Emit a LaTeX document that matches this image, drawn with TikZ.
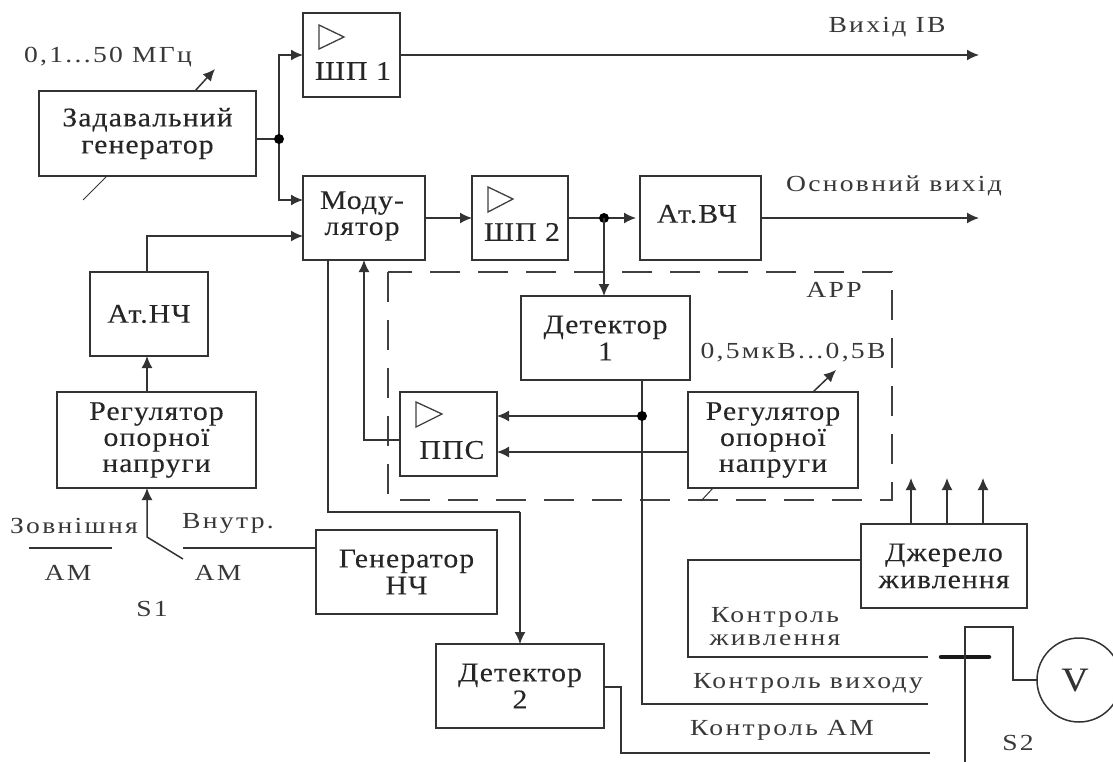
\documentclass[tikz,border=0pt]{standalone}
\usepackage{fontspec}
\setmainfont[LetterSpace=4,FakeStretch=1.1,FakeBold=0.15]{Liberation Serif}
\newfontfamily\smf[LetterSpace=10,FakeStretch=1.2]{Liberation Serif}
\usetikzlibrary{arrows.meta}
\tikzset{
  x=1pt,y=-1pt,
  wire/.style={draw=black!80,line width=1.5pt},
  arr/.style={wire,-{Latex[length=12pt,width=11pt]}},
  boxa/.style={wire,fill=white,inner sep=0pt,outer sep=0pt,align=center,
     font=\fontsize{27}{27}\selectfont,text=black!85},
  tri/.style={draw=black!75,line width=1.3pt},
  dot/.style={circle,fill=black,inner sep=0pt,minimum size=10pt},
  dashbox/.style={draw=black!75,line width=1.5pt,dash pattern=on 30pt off 18pt},
  lab/.style={inner sep=0pt,align=center,font=\fontsize{27}{26}\selectfont,text=black!85},
  slab/.style={inner sep=0pt,align=center,font=\smf\fontsize{23}{23}\selectfont,text=black!78},
}
\begin{document}
\begin{tikzpicture}
\useasboundingbox (0,0) rectangle (1113,762);
\clip (0,0) rectangle (1113,762);
% dashed frame
\draw[dashbox] (388,272) rectangle (892,500);
% boxes
\node[boxa,minimum width=217pt,minimum height=85pt] (zg) at (147.5,133.5) {Задавальний\\генератор};
\node[boxa,minimum width=97pt,minimum height=84pt] (shp1) at (351.5,55) {};
\node[lab] (shp1t) at (353,71) {ШП 1};
\node[boxa,minimum width=122pt,minimum height=84pt] (mod) at (364,218) {};
\node[lab] (modt) at (362,216) {Моду-\\лятор};
\node[boxa,minimum width=96pt,minimum height=84pt] (shp2) at (520,218) {};
\node[lab] (shp2t) at (522,232) {ШП 2};
\node[boxa,minimum width=121pt,minimum height=84pt] (atv) at (700.5,218) {};
\node[lab] (atvt) at (697,214) {Ат.ВЧ};
\node[boxa,minimum width=118pt,minimum height=84pt] (atn) at (149,314) {Ат.НЧ};
\node[boxa,minimum width=199pt,minimum height=96pt] (reg1) at (156.5,440) {};
\node[lab] (reg1t) at (156.5,440) {Регулятор\\опорної\\напруги};
\node[boxa,minimum width=169pt,minimum height=84pt] (det1) at (605.5,338) {Детектор\\1};
\node[boxa,minimum width=97pt,minimum height=84pt] (pps) at (448.5,434) {};
\node[lab] (ppst) at (452,450) {ППС};
\node[boxa,minimum width=170pt,minimum height=96pt] (reg2) at (773,440) {};
\node[lab] (reg2t) at (773,440) {Регулятор\\опорної\\напруги};
\node[boxa,minimum width=181pt,minimum height=84pt] (gen) at (406.5,572) {Генератор\\НЧ};
\node[boxa,minimum width=168pt,minimum height=84pt] (det2) at (520,686) {Детектор\\2};
\node[boxa,minimum width=166pt,minimum height=84pt] (pwr) at (944,566) {Джерело\\живлення};
% amplifier triangles
\draw[tri] (319,25) -- (344,37) -- (319,49) -- cycle;
\draw[tri] (488,187) -- (513,199) -- (488,212) -- cycle;
\draw[tri] (416,402) -- (442,414) -- (416,427) -- cycle;
% named points
\coordinate (j1) at (279,139);
\coordinate (j2) at (604,218);
\coordinate (j3) at (642,416);
\coordinate (c12) at (520,512);
\coordinate (ctrlv) at (928,704);
\coordinate (ctrla) at (930,753);
\coordinate (ctrlp) at (928,657);
\coordinate (s2top) at (1013,627);
\coordinate (s2bot) at (965,762);
\coordinate (ivout) at (979,55);
\coordinate (mainout) at (979,218);
\coordinate (sw) at (147,537);
\coordinate (swend) at (183,559);
\coordinate (genend) at (183,548);
\coordinate (zl) at (29,548);
\coordinate (zr) at (112,548);
\coordinate (atvin) at (636,218);
\node[wire,circle,inner sep=0pt,outer sep=0pt,minimum size=84pt] (vm) at (1079,680) {};
% connectors
\draw[wire] (zg.east |- j1) -- (j1);
\draw[arr] (j1) |- (shp1.west);
\draw[arr] (j1) |- (mod.west |- 0,200);
\node[dot] (jd1) at (j1) {};
\draw[arr] (shp1.east) -- (ivout);
\draw[arr] (atn.north -| 147,0) |- (mod.west |- 0,236);
\draw[arr] (reg1.north -| 147,0) -- (atn.south -| 147,0);
\draw[arr] (mod.east) -- (shp2.west);
\draw[arr] (shp2.east) -- (atvin);
\node[dot] (jd2) at (j2) {};
\draw[arr] (j2) -- (det1.north -| j2);
\draw[arr] (atv.east) -- (mainout);
\draw[arr] (pps.west |- 0,440) -| (mod.south -| 364,0);
\draw[arr] (reg2.west |- 0,452) -- (pps.east |- 0,452);
\draw[arr] (j3) -- (pps.east |- j3);
\draw[wire] (det1.south -| j3) |- (ctrlv);
\node[dot] (jd3) at (j3) {};
\draw[wire] (mod.south -| 328,0) |- (c12);
\draw[arr] (c12) -- (det2.north);
\draw[wire] (det2.east |- 0,687) -- (621,687) |- (ctrla);
\draw[wire] (pwr.west |- 0,560) -| (688,657) -- (ctrlp);
\draw[line width=4.5pt,line cap=round,black!90] (941,657) -- (989,657);
\draw[wire] (s2bot) |- (s2top) |- (vm.west);
\foreach \x in {911,947,983} \draw[arr] (pwr.north -| \x,0) -- (\x,478);
% switch S1
\draw[arr] (swend) -- (sw) -- (reg1.south -| sw);
\draw[wire] (zl) -- (zr);
\draw[wire] (genend) -- (gen.west |- genend);
% adjustment ticks
\draw[arr] (zg.north -| 195,0) -- (215,69);
\draw[wire,line width=1pt] (zg.south -| 107,0) -- (83,200);
\draw[arr] (reg2.north -| 813,0) -- (836,370);
\draw[wire,line width=1pt] (reg2.south -| 713,0) -- (701,501);
% labels
\node[slab] (f) at (108,57) {0,1...50 МГц};
\node[slab] (vout) at (887,27) {Вихід ІВ};
\node[slab] (mout) at (894,186) {Основний вихід};
\node[slab] (arrl) at (834,290) {АРР};
\node[slab] (volt) at (793,353) {0,5мкВ...0,5В};
\node[slab] (z) at (74,526) {Зовнішня};
\node[slab] (am1) at (68,573) {АМ};
\node[slab] (vn) at (228,523) {Внутр.};
\node[slab] (am2) at (218,573) {АМ};
\node[slab] (s1) at (152,609) {S1};
\node[slab] (kp) at (775,627) {Контроль\\живлення};
\node[slab] (kv) at (808,683) {Контроль виходу};
\node[slab] (ka) at (782,730) {Контроль АМ};
\node[slab] (s2) at (1018,743) {S2};
\node[inner sep=0pt,font=\fontsize{34}{34}\selectfont,text=black!80] (v) at (1075,680) {V};
\end{tikzpicture}
\end{document}
